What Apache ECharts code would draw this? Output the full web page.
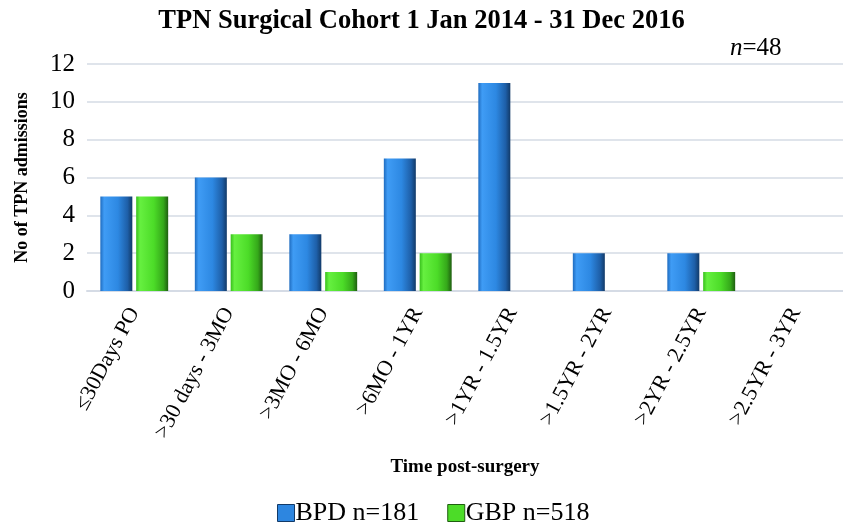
<!DOCTYPE html>
<html><head><meta charset="utf-8">
<script src="https://cdn.jsdelivr.net/npm/echarts@6/dist/echarts.min.js"></script>
<style>html,body{margin:0;padding:0;background:#fff}#c{width:843px;height:526px}</style>
</head><body><div id="c"></div>
<script>
const categories = ['≤30Days PO', '>30 days - 3MO', '>3MO - 6MO', '>6MO - 1YR', '>1YR - 1.5YR', '>1.5YR - 2YR', '>2YR - 2.5YR', '>2.5YR - 3YR'];
const bpd = [5, 6, 3, 7, 11, 2, 2, 0];
const gbp = [5, 3, 1, 2, 0, 0, 1, 0];
const seriesNames = ['BPD n=181', 'GBP n=518'];
const yTicks = {min: 0, max: 12, interval: 2};

const F = '"Liberation Serif", "Times New Roman", serif';
const blue = new echarts.graphic.LinearGradient(0, 0, 1, 0, [
  {offset: 0, color: '#1f6cc0'}, {offset: 0.12, color: '#3f9cf5'}, {offset: 0.55, color: '#2d88e2'},
  {offset: 0.85, color: '#1e5fa8'}, {offset: 1, color: '#123a68'}]);
const green = new echarts.graphic.LinearGradient(0, 0, 1, 0, [
  {offset: 0, color: '#38c01c'}, {offset: 0.12, color: '#66f040'}, {offset: 0.55, color: '#4cdc28'},
  {offset: 0.85, color: '#35a81a'}, {offset: 1, color: '#1f5e10'}]);
const hideZero = v => (v === 0 ? '-' : v);

const chart = echarts.init(document.getElementById('c'));
chart.setOption({
  animation: false,
  title: [{text: 'TPN Surgical Cohort 1 Jan 2014 - 31 Dec 2016', left: 'center', top: 3,
    textStyle: {fontFamily: F, fontSize: 26.5, fontWeight: 'bold', color: '#000'}},
    {text: '{i|n}=48', left: 725, top: 31,
      textStyle: {fontFamily: F, fontSize: 25, fontWeight: 'normal', color: '#000',
        rich: {i: {fontFamily: F, fontSize: 25, fontStyle: 'italic', color: '#000'}}}}],
  legend: {top: 495, left: 272, itemWidth: 17, itemHeight: 17, itemGap: 28,
    textStyle: {fontFamily: F, fontSize: 26, color: '#000', padding: [0, 0, 0, -4]},
    data: [{name: seriesNames[0], icon: 'rect', itemStyle: {color: '#2d86e0', borderColor: '#123a68', borderWidth: 1}},
           {name: seriesNames[1], icon: 'rect', itemStyle: {color: '#4cdc28', borderColor: '#1f5e10', borderWidth: 1}}]},
  grid: {left: 87, right: 0, top: 64, bottom: 235},
  xAxis: {type: 'category', data: categories,
    name: 'Time post-surgery', nameLocation: 'middle', nameGap: 167,
    nameTextStyle: {fontFamily: F, fontSize: 19, fontWeight: 'bold', color: '#000'},
    axisLine: {lineStyle: {color: '#d5dbe5', width: 2}}, axisTick: {show: false},
    axisLabel: {rotate: 62, fontFamily: F, fontSize: 22, color: '#000', margin: 18, interval: 0}},
  yAxis: {type: 'value', min: yTicks.min, max: yTicks.max, interval: yTicks.interval,
    name: 'No of TPN admissions', nameLocation: 'middle', nameGap: 56, nameRotate: 90,
    nameTextStyle: {fontFamily: F, fontSize: 18, fontWeight: 'bold', color: '#000'},
    axisLine: {show: false}, axisTick: {show: false},
    axisLabel: {fontFamily: F, fontSize: 25, color: '#000', margin: 12},
    splitLine: {lineStyle: {color: '#d5dbe5', width: 1.5}}},
  series: [
    {name: seriesNames[0], type: 'bar', data: bpd.map(hideZero), barWidth: 32, barGap: '12%',
      itemStyle: {color: blue}},
    {name: seriesNames[1], type: 'bar', data: gbp.map(hideZero), barWidth: 32,
      itemStyle: {color: green}}
  ]
});
</script></body></html>
